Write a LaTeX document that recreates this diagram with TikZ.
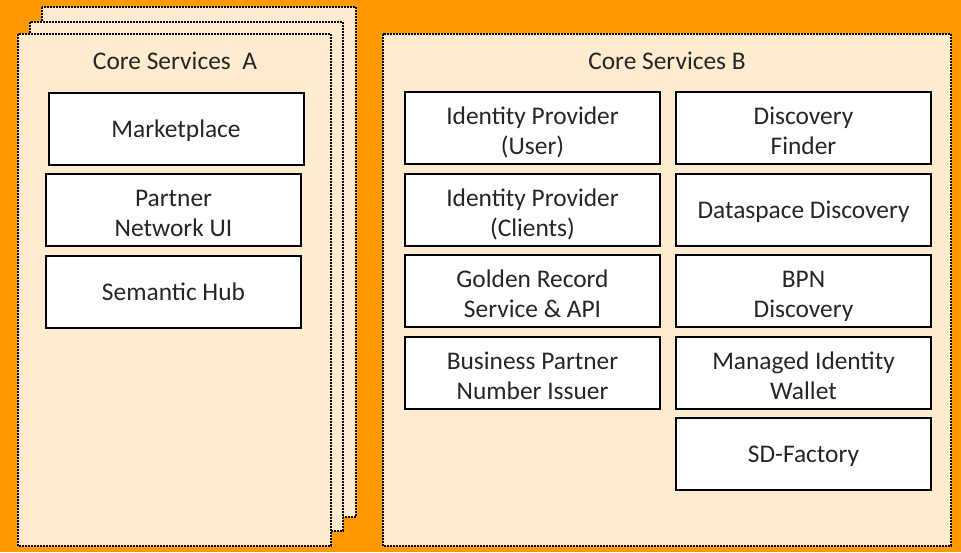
\documentclass[tikz,border=0pt]{standalone}
\usepackage{fontspec}
\setmainfont{Carlito}
\definecolor{bgorange}{HTML}{FF9900}
\definecolor{peach}{HTML}{FFEBCD}

\begin{document}
\begin{tikzpicture}[x=0.5pt,y=-0.5pt,font=\fontsize{12.7}{15}\selectfont,
	layer/.style={draw=black,fill=peach,line width=1pt,dash pattern=on 0.8pt off 0.7pt},
	service/.style={draw=black,fill=white,line width=1pt,text=black!85,align=center,
		minimum width=127.5pt,minimum height=36pt,inner sep=0pt,text height=9pt,text depth=0.5pt},
	service2/.style={service,text height=26pt,text depth=0pt},
	heading/.style={text=black!85}]
\fill[bgorange] (0,0) rectangle (961,552);
\useasboundingbox (0,0) rectangle (961,552);
% stack of core services A
\draw[layer] (42,7) rectangle (356,517);
\draw[layer] (30,22) rectangle (343,531);
\draw[layer] (18,34) rectangle (331,546);
\node[heading] (titleA) at (175,61) {Core Services~~A};
\node[service] (market) at (176,128.5) {Marketplace};
\node[service2] (partner) at (173.5,210) {Partner\\Network UI};
\node[service] (semhub) at (173.5,291.5) {Semantic Hub};
% core services B
\draw[layer] (383,34) rectangle (951,546);
\node[heading] (titleB) at (667,61) {Core Services B};
\node[service2] (idpuser) at (532.5,128) {Identity Provider\\(User)};
\node[service2] (idpclient) at (532.5,210) {Identity Provider\\(Clients)};
\node[service2] (golden) at (532.5,291) {Golden Record\\Service \& API};
\node[service2] (bpnissuer) at (532.5,373) {Business Partner\\Number Issuer};
\node[service2] (finder) at (803.5,128) {Discovery\\Finder};
\node[service] (dataspace) at (803.5,210) {Dataspace Discovery};
\node[service2] (bpndisc) at (803.5,291) {BPN\\Discovery};
\node[service2] (wallet) at (803.5,373) {Managed Identity\\Wallet};
\node[service] (sdfactory) at (803.5,454) {SD-Factory};
\end{tikzpicture}
\end{document}
